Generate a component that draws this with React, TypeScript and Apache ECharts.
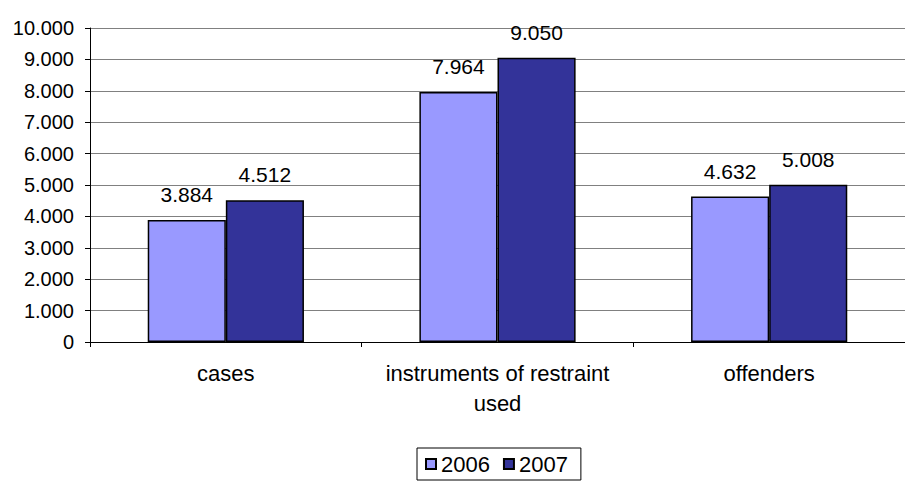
import React, { useEffect, useRef } from "react";
import * as echarts from "echarts";

const categories = ["cases", "instruments of restraint\nused", "offenders"];
const seriesNames = ["2006", "2007"];
const values2006 = [3884, 7964, 4632];
const values2007 = [4512, 9050, 5008];
const colors = ["#9999FF", "#333399"];

const fmt = (v: number) => {
  const s = String(Math.round(v));
  return s.replace(/\B(?=(\d{3})+(?!\d))/g, ".");
};

export default function App() {
  const ref = useRef<HTMLDivElement>(null);
  useEffect(() => {
    if (!ref.current) return;
    const chart = echarts.init(ref.current, null, { renderer: "svg" });
    const font = "'Liberation Sans', Arial, sans-serif";
    const fs = 20;
    const fsBig = 22;
    const mk = (name: string, data: number[], color: string) => ({
      name,
      type: "bar",
      data,
      barGap: "0%",
      barCategoryGap: "42.5%",
      itemStyle: { color, borderColor: "#000", borderWidth: 1.5 },
      label: {
        show: true,
        position: "top",
        distance: 15,
        formatter: (p: any) => fmt(p.value),
        color: "#000",
        fontSize: 21,
        fontFamily: font,
      },
    });
    chart.setOption({
      animation: false,
      backgroundColor: "#fff",
      textStyle: { fontFamily: font },
      grid: { left: 90, top: 28, bottom: 141, right: -4, containLabel: false },
      legend: {
        bottom: 3,
        left: 417,
        data: seriesNames,
        itemWidth: 10,
        itemHeight: 10,
        itemGap: 13,
        icon: "rect",
        borderColor: "#000",
        borderWidth: 1,
        borderRadius: 0,
        padding: [5, 13, 5, 8],
        textStyle: { fontSize: fsBig, color: "#000", fontFamily: font },
      },
      xAxis: {
        type: "category",
        data: categories,
        axisLine: { show: true, lineStyle: { color: "#000", width: 1 } },
        axisTick: { show: true, alignWithLabel: false, length: 5, lineStyle: { color: "#000" } },
        axisLabel: {
          color: "#000",
          fontSize: fsBig,
          lineHeight: 30,
          margin: 16,
          fontFamily: font,
          interval: 0,
        },
        splitLine: { show: false },
      },
      yAxis: {
        type: "value",
        min: 0,
        max: 10000,
        interval: 1000,
        axisLine: { show: true, lineStyle: { color: "#000", width: 1 } },
        axisTick: { show: true, length: 5, lineStyle: { color: "#000" } },
        axisLabel: {
          color: "#000",
          fontSize: fs,
          margin: 16,
          fontFamily: font,
          formatter: (v: number) => fmt(v),
        },
        splitLine: { show: true, lineStyle: { color: "#808080", width: 1 } },
      },
      series: [mk(seriesNames[0], values2006, colors[0]), mk(seriesNames[1], values2007, colors[1])],
    });
    return () => chart.dispose();
  }, []);
  return <div ref={ref} style={{ width: 905, height: 483, position: "absolute", left: 0, top: 0 }} />;
}
